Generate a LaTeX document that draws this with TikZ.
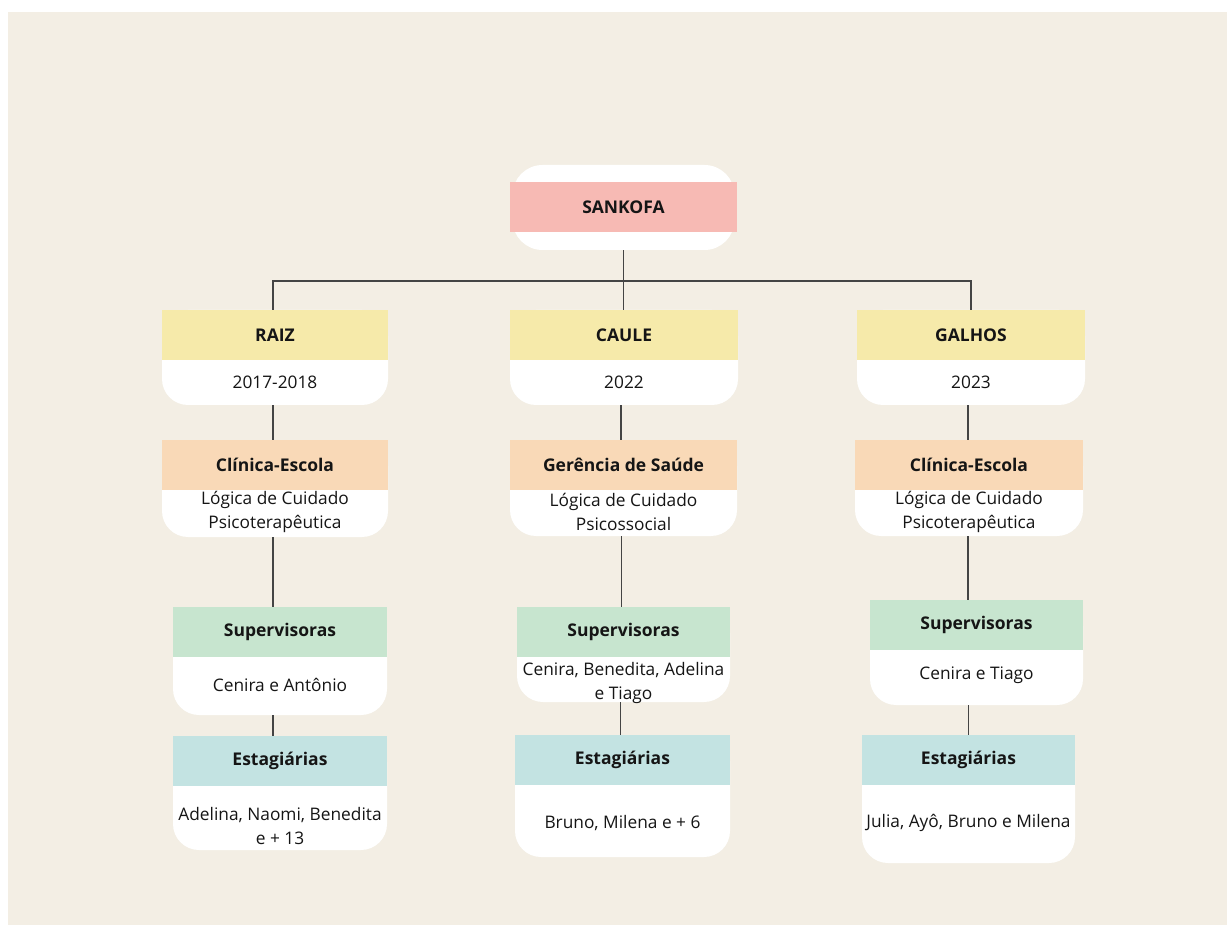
\documentclass[tikz,border=0pt]{standalone}
\usepackage{fontspec}
\setmainfont{Open Sans}
\definecolor{bg}{HTML}{F3EEE4}
\definecolor{pinkc}{HTML}{F7BAB4}
\definecolor{yelc}{HTML}{F6EAAA}
\definecolor{orac}{HTML}{F9D9B7}
\definecolor{grec}{HTML}{C7E5CF}
\definecolor{bluc}{HTML}{C3E3E2}
\definecolor{ink}{HTML}{151515}
\definecolor{linec}{HTML}{444444}
\tikzset{
  wbox/.style={fill=white, rounded corners=26pt, inner sep=0pt, draw=none},
  hbox/.style={inner sep=0pt, draw=none, text=ink, font=\bfseries\fontsize{17.5}{21}\selectfont},
  btxt/.style={inner sep=0pt, text=ink, align=center, font=\fontsize{17.3}{24}\selectfont},
  conn/.style={draw=linec, line width=1.1pt}
}
% name, cx, width, ytop, ybot, colour, header, body, body y
\newcommand\mycard[9]{%
  \pgfmathsetmacro\hcy{#4+25}%
  \pgfmathsetmacro\wcy{(#4+#5)/2}%
  \pgfmathsetmacro\wh{#5-#4}%
  \node[wbox, minimum width=#3, minimum height=\wh] (#1W) at (#2,\wcy) {};
  \node[hbox, fill=#6, minimum width=#3, minimum height=50] (#1) at (#2,\hcy) {#7};
  \node[btxt] (#1T) at (#2,#9) {#8};
}
\begin{document}
\begin{tikzpicture}[x=1pt,y=-1pt]
\useasboundingbox (0,0) rectangle (1227,925);
\fill[white] (0,0) rectangle (1227,925);
\fill[bg] (8,12) rectangle (1227,925);

% root
\node[wbox, minimum width=222, minimum height=85, rounded corners=30pt] (sankW) at (623.5,207.5) {};
\node[hbox, fill=pinkc, minimum width=227, minimum height=50] (sank) at (623.5,207) {SANKOFA};

% level 1
\mycard{raiz}{275}{226}{310}{405}{yelc}{RAIZ}{2017-2018}{382}
\mycard{caule}{624}{228}{310}{405}{yelc}{CAULE}{2022}{382}
\mycard{galhos}{971}{228}{310}{405}{yelc}{GALHOS}{2023}{382}

% level 2
\mycard{clinA}{275}{226}{440}{537}{orac}{Clínica-Escola}{Lógica de Cuidado\\Psicoterapêutica}{512}
\mycard{ger}{623.5}{227}{440}{536}{orac}{Gerência de Saúde}{Lógica de Cuidado\\Psicossocial}{512}
\mycard{clinB}{969}{228}{440}{536}{orac}{Clínica-Escola}{Lógica de Cuidado\\Psicoterapêutica}{512}

% level 3
\mycard{supA}{280}{214}{607}{715}{grec}{Supervisoras}{Cenira e Antônio}{685}
\mycard{supB}{623.5}{213}{607}{702}{grec}{Supervisoras}{Cenira, Benedita, Adelina\\e Tiago}{683}
\mycard{supC}{976.5}{213}{600}{705}{grec}{Supervisoras}{Cenira e Tiago}{675}

% level 4
\mycard{estA}{280}{214}{736}{850}{bluc}{Estagiárias}{Adelina, Naomi, Benedita\\e + 13}{826}
\mycard{estB}{622.5}{215}{735}{857}{bluc}{Estagiárias}{Bruno, Milena e + 6}{823}
\mycard{estC}{968.5}{213}{735}{863}{bluc}{Estagiárias}{Julia, Ayô, Bruno e Milena}{823}

% connectors
\coordinate (bus) at (0,281);
\draw[conn] (sankW.south) -- (sankW.south |- caule.north);
\draw[conn] ([xshift=-2pt]raiz.north) -- ([xshift=-2pt]raiz.north |- bus) -- (galhos.north |- bus) -- (galhos.north);
\draw[conn] ([xshift=-2pt]raizW.south) -- ([xshift=-2pt]raizW.south |- clinA.north);
\draw[conn] ([xshift=-3pt]caule.south |- cauleW.south) -- ([xshift=-3pt]cauleW.south |- ger.north);
\draw[conn] ([xshift=-3pt]galhosW.south) -- ([xshift=-3pt]galhosW.south |- clinB.north);
\draw[conn] ([xshift=-2pt]clinAW.south) -- ([xshift=-2pt]clinAW.south |- supA.north);
\draw[conn] ([xshift=-2pt]gerW.south) -- ([xshift=-2pt]gerW.south |- supB.north);
\draw[conn] ([xshift=-1pt]clinBW.south) -- ([xshift=-1pt]clinBW.south |- supC.north);
\draw[conn] ([xshift=-7pt]supAW.south) -- ([xshift=-7pt]supAW.south |- estA.north);
\draw[conn] ([xshift=-3pt]supBW.south) -- ([xshift=-3pt]supBW.south |- estB.north);
\draw[conn] ([xshift=-8pt]supCW.south) -- ([xshift=-8pt]supCW.south |- estC.north);
\end{tikzpicture}
\end{document}
